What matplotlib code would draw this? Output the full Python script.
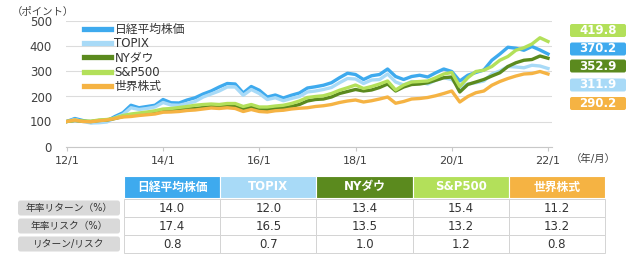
import matplotlib
matplotlib.use("Agg")
import matplotlib.pyplot as plt
from matplotlib.patches import Rectangle, FancyBboxPatch
import numpy as np

plt.rcParams['font.family'] = ['DejaVu Sans', 'Noto Sans CJK JP']

# months since 2012/1, every two months
months = list(range(0, 121, 2))

nikkei = [100, 112, 104, 96, 98, 102, 120, 135, 165, 155, 160, 165, 188, 175, 174, 186,
          195, 210, 222, 238, 252, 250, 214, 240, 225, 198, 206, 194, 205, 214, 234, 239,
          245, 255, 275, 293, 288, 268, 283, 288, 310, 280, 268, 280, 285, 278, 295, 310,
          300, 262, 285, 296, 306, 345, 370, 397, 393, 385, 400, 386, 370]
topix = [100, 108, 100, 94, 95, 98, 115, 128, 155, 148, 152, 158, 176, 166, 165, 172,
         180, 198, 210, 222, 238, 238, 205, 228, 212, 188, 195, 183, 192, 200, 218, 222,
         228, 236, 255, 272, 270, 252, 266, 268, 290, 258, 246, 260, 258, 250, 265, 275,
         268, 235, 250, 255, 262, 290, 302, 320, 318, 315, 325, 322, 312]
nydow = [100, 104, 101, 100, 104, 106, 112, 120, 125, 128, 132, 136, 142, 143, 146, 150,
         152, 156, 160, 158, 162, 160, 150, 158, 150, 148, 152, 155, 160, 168, 182, 188,
         190, 198, 212, 220, 228, 222, 226, 236, 250, 222, 238, 248, 250, 255, 265, 275,
         278, 218, 248, 258, 268, 282, 295, 320, 335, 345, 348, 362, 353]
sp500 = [100, 105, 102, 101, 106, 108, 114, 124, 130, 134, 138, 143, 150, 152, 156, 160,
         165, 168, 170, 168, 172, 172, 160, 168, 158, 158, 162, 165, 172, 182, 196, 200,
         203, 212, 225, 235, 246, 232, 240, 250, 262, 226, 246, 258, 260, 262, 275, 290,
         296, 240, 275, 300, 305, 320, 345, 360, 385, 395, 410, 435, 420]
world = [100, 106, 100, 99, 103, 106, 112, 118, 120, 124, 127, 130, 137, 138, 140, 144,
         146, 150, 154, 152, 155, 152, 140, 148, 140, 138, 143, 145, 150, 153, 155, 160,
         163, 168, 176, 182, 186, 178, 183, 190, 198, 173, 180, 190, 192, 196, 203, 212,
         222, 178, 200, 215, 222, 245, 260, 272, 282, 290, 292, 300, 290]

names = ['日経平均株価', 'TOPIX', 'NYダウ', 'S&P500', '世界株式']
colors = ['#3eaaee', '#a8daf7', '#5b8a1e', '#b3e05a', '#f5b343']
series = [nikkei, topix, nydow, sp500, world]

final_labels = ['419.8', '370.2', '352.9', '311.9', '290.2']
final_colors = ['#b3e05a', '#3eaaee', '#5b8a1e', '#a8daf7', '#f5b343']

row_labels = ['年率リターン（%）', '年率リスク（%）', 'リターン/リスク']
ann_return = [14.0, 12.0, 13.4, 15.4, 11.2]
ann_risk = [17.4, 16.5, 13.5, 13.2, 13.2]
ret_risk = [0.8, 0.7, 1.0, 1.2, 0.8]

xticks = [0, 24, 48, 72, 96, 120]
xticklabels = ['12/1', '14/1', '16/1', '18/1', '20/1', '22/1']

W, H = 640, 260
fig = plt.figure(figsize=(6.4, 2.6), dpi=100)
ax = fig.add_axes([66 / W, 1 - 146.5 / H, 486 / W, 125 / H])

for vals, name, c in zip(series, names, colors):
    ax.plot(months, vals, color=c, lw=2.4, label=name, solid_joinstyle='round')

ax.set_xlim(-0.2, 121)
ax.set_ylim(0, 500)
ax.set_yticks(range(0, 501, 100))
ax.set_xticks(xticks)
ax.set_xticklabels(xticklabels)
ax.grid(axis='y', color='#dcdcdc', lw=0.8)
ax.set_axisbelow(True)
for s in ['top', 'right', 'left']:
    ax.spines[s].set_visible(False)
ax.spines['bottom'].set_color('#c8c8c8')
ax.tick_params(axis='y', length=0, labelsize=8.5, colors='#404040', pad=10)
ax.tick_params(axis='x', length=3, color='#c8c8c8', labelsize=8, colors='#404040', pad=4)

leg = ax.legend(loc='upper left', bbox_to_anchor=(0.028, 1.025), frameon=False, fontsize=8.5,
                handlelength=2.3, handletextpad=0.25, labelspacing=0.1, borderaxespad=0)
for h in leg.get_lines():
    h.set_linewidth(3.8)
for t in leg.get_texts():
    t.set_color('#333333')

fig.text(12 / W, 1 - 12 / H, '（ポイント）', fontsize=7.5, color='#404040', va='center', ha='left')
fig.text(593 / W, 1 - 159 / H, '（年/月）', fontsize=7.5, color='#404040', va='center', ha='center')

# overlay in pixel coordinates for boxes and table
ov = fig.add_axes([0, 0, 1, 1])
ov.set_xlim(0, W)
ov.set_ylim(H, 0)
ov.axis('off')
ov.patch.set_alpha(0)

box_y = [30.5, 49, 66, 85, 103.5]
for lab, c, yc in zip(final_labels, final_colors, box_y):
    ov.add_patch(FancyBboxPatch((570, yc - 6.5), 56, 13, boxstyle='round,pad=0,rounding_size=2',
                                fc=c, ec='none'))
    ov.text(598, yc, lab, color='white', fontsize=8.5, fontweight='bold', ha='center', va='center')

col_x0, col_w = 124, 96.2
hdr_top, hdr_h = 176, 22
row_tops = [199, 217, 235]
row_h = 18
for i, (name, c) in enumerate(zip(names, colors)):
    x0 = col_x0 + i * col_w
    ov.add_patch(Rectangle((x0, hdr_top), col_w, hdr_h, fc=c, ec='white', lw=0.8))
    ov.text(x0 + col_w / 2, hdr_top + hdr_h / 2, name, color='white', fontsize=8.5,
            fontweight='bold', ha='center', va='center')

table_rows = [ann_return, ann_risk, ret_risk]
for r, (vals, lab) in enumerate(zip(table_rows, row_labels)):
    y0 = row_tops[r]
    ov.add_patch(FancyBboxPatch((18, y0 + 1.5), 102, row_h - 3,
                                boxstyle='round,pad=0,rounding_size=2.5', fc='#d9d9d9', ec='none'))
    ov.text(69, y0 + row_h / 2, lab, fontsize=7, color='#333333', ha='center', va='center')
    for i, v in enumerate(vals):
        x0 = col_x0 + i * col_w
        ov.add_patch(Rectangle((x0, y0), col_w, row_h, fc='white', ec='#d4d4d4', lw=0.7))
        ov.text(x0 + col_w / 2, y0 + row_h / 2, '{:.1f}'.format(v), fontsize=8.5,
                color='#333333', ha='center', va='center')

fig.savefig('out.png', dpi=100)
